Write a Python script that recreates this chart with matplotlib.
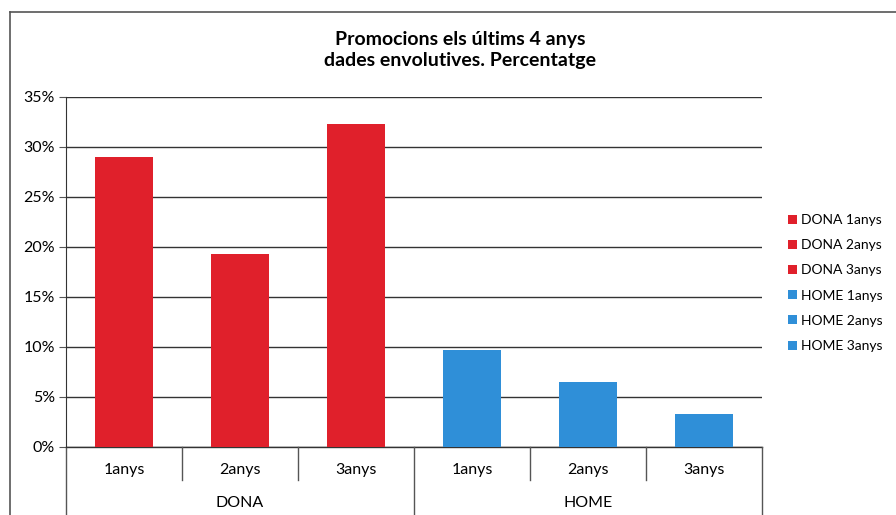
import matplotlib.pyplot as plt
from matplotlib.ticker import PercentFormatter

# values (percent)
groups = ['DONA', 'HOME']
subcats = ['1anys', '2anys', '3anys']
dona = [29.0, 19.3, 32.3]
home = [9.7, 6.5, 3.3]
colors = {'DONA': '#e0202b', 'HOME': '#2f8fd8'}

plt.rcParams['font.family'] = ['Lato', 'DejaVu Sans']

fig = plt.figure(figsize=(8.96, 5.15), dpi=100)
ax = fig.add_axes([66 / 896, 68 / 515, 696 / 896, 350 / 515])

# outer chart frame (left + top edge visible in the scan)
fig.add_artist(plt.Line2D([10 / 896, 10 / 896], [0, 1 - 12 / 515], color='#555555', lw=1.2))
fig.add_artist(plt.Line2D([10 / 896, 1], [1 - 12 / 515, 1 - 12 / 515], color='#555555', lw=1.2))

values = {'DONA': dona, 'HOME': home}
pos = 0
for g in groups:
    for s, v in zip(subcats, values[g]):
        ax.bar(pos, v, width=0.5, color=colors[g], label=f'{g} {s}', zorder=3)
        pos += 1

ax.set_xlim(-0.5, 5.5)
ax.set_ylim(0, 35)
ax.set_yticks(range(0, 36, 5))
ax.yaxis.set_major_formatter(PercentFormatter(decimals=0))
ax.grid(axis='y', color='#333333', lw=1.0, zorder=0)
ax.tick_params(axis='y', length=5, color='#555555', labelsize=11.5, pad=3)
ax.set_xticks([])
for side in ['top', 'right', 'bottom']:
    ax.spines[side].set_visible(False)
ax.spines['left'].set_color('#333333')

# multi-level category axis
tr = ax.get_xaxis_transform()
ax.plot([-0.5, 5.5], [0, 0], transform=tr, color='#333333', lw=1.0, clip_on=False)
for x in [0.5, 1.5, 3.5, 4.5]:
    ax.plot([x, x], [0, -0.095], transform=tr, color='#555555', lw=1.0, clip_on=False)
for x in [-0.5, 2.5, 5.5]:
    ax.plot([x, x], [0, -0.2], transform=tr, color='#555555', lw=1.0, clip_on=False)
pos = 0
for gi, g in enumerate(groups):
    for s in subcats:
        ax.text(pos, -0.066, s, transform=tr, ha='center', va='center', fontsize=11.5)
        pos += 1
    ax.text(gi * 3 + 1, -0.16, g, transform=tr, ha='center', va='center', fontsize=11.5)

fig.text(460 / 896, 1 - 50 / 515, 'Promocions els últims 4 anys\ndades envolutives. Percentatge',
         ha='center', va='center', fontsize=14, fontweight='bold', linespacing=1.3)

handles, labels = ax.get_legend_handles_labels()
fig.legend(handles, labels, loc='center left', bbox_to_anchor=(780 / 896, 1 - 283 / 515),
           frameon=False, fontsize=10, handlelength=0.6, handleheight=0.6,
           handletextpad=0.3, labelspacing=0.95, borderaxespad=0.2)

fig.savefig('out.png', dpi=100)
